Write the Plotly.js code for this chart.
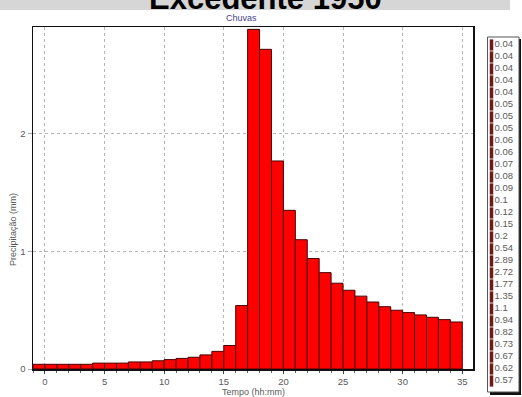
<!DOCTYPE html>
<html>
<head>
<meta charset="utf-8">
<script src="https://cdn.plot.ly/plotly-3.0.1.min.js"></script>
<style>html,body{margin:0;padding:0;background:#fff;}#chart{width:522px;height:397px;}</style>
</head>
<body>
<div id="chart"></div>
<script>
// ---- data ----
const chartTitle = 'Excedente 1950';
const subTitle = 'Chuvas';
const xTitle = 'Tempo (hh:mm)';
const yTitle = 'Precipitação (mm)';
const times = [-1,0,1,2,3,4,5,6,7,8,9,10,11,12,13,14,15,16,17,18,19,20,21,22,23,24,25,26,27,28,29,30,31,32,33,34];
const rain = [0.04,0.04,0.04,0.04,0.04,0.05,0.05,0.05,0.06,0.06,0.07,0.08,0.09,0.1,0.12,0.15,0.2,0.54,2.89,2.72,1.77,1.35,1.1,0.94,0.82,0.73,0.67,0.62,0.57,0.53,0.5,0.48,0.46,0.44,0.42,0.4];
const xTicks = [0,5,10,15,20,25,30,35];
const yTicks = [0,1,2];
const legendShown = 29; // the legend box is cut off by the picture after this many entries

// ---- layout helpers (pixel -> paper) ----
const W = 522, H = 397;
const px = v => v / W;
const py = v => 1 - v / H;
const font = 'Liberation Sans, Arial, sans-serif';
const grey = '#5a5a5a';

const legVals = rain.slice(0, legendShown);
const legendIdx = legVals.map((v, i) => i);

const bars = {
  type: 'bar', x: times, y: rain, offset: 0, width: 1,
  marker: {color: '#ff0000', line: {color: '#4a0000', width: 1}},
  xaxis: 'x', yaxis: 'y', hoverinfo: 'skip', showlegend: false
};
const legMarks = {
  type: 'scatter', mode: 'markers', x: legVals.map(() => 5.5), y: legendIdx,
  marker: {symbol: 'line-ns', size: 8, line: {width: 3.5, color: '#6e1a1a'}},
  xaxis: 'x2', yaxis: 'y2', hoverinfo: 'skip', showlegend: false
};
const legText = {
  type: 'scatter', mode: 'text', x: legVals.map(() => 8.5), y: legendIdx,
  text: legVals.map(v => String(v)), textposition: 'middle right',
  textfont: {family: font, size: 9.5, color: grey},
  xaxis: 'x2', yaxis: 'y2', hoverinfo: 'skip', showlegend: false
};

const layout = {
  width: W, height: H,
  margin: {l: 0, r: 0, t: 0, b: 0},
  paper_bgcolor: '#ffffff', plot_bgcolor: '#ffffff',
  showlegend: false, hovermode: false, bargap: 0,
  font: {family: font, size: 9, color: grey},
  xaxis: {
    domain: [px(33), px(473)], range: [-1, 35.9], anchor: 'y',
    tickvals: xTicks, ticks: 'outside', ticklen: 3, tickcolor: '#444',
    tickfont: {family: font, size: 9.5, color: grey},
    showgrid: true, gridcolor: '#b4b4b4', griddash: '3px,3px', gridwidth: 1,
    minor: {dtick: 1, tick0: 0, ticks: 'outside', ticklen: 2, tickcolor: '#666', showgrid: false},
    showline: true, mirror: true, linecolor: '#111', linewidth: 1.5,
    zeroline: false, fixedrange: true
  },
  yaxis: {
    domain: [py(369), py(27)], range: [0, 2.91], anchor: 'x',
    tickvals: yTicks, ticks: 'outside', ticklen: 4, tickcolor: '#aaa',
    tickfont: {family: font, size: 9.5, color: grey},
    showgrid: true, gridcolor: '#b4b4b4', griddash: '3px,3px', gridwidth: 1,
    showline: true, mirror: true, linecolor: '#111', linewidth: 1.5,
    zeroline: false, fixedrange: true
  },
  xaxis2: {
    domain: [px(486), px(520)], range: [0, 34], anchor: 'y2',
    visible: false, fixedrange: true
  },
  yaxis2: {
    domain: [py(390), py(37)], range: [(390 - 45) / 12, (37 - 45) / 12], anchor: 'x2',
    visible: false, fixedrange: true
  },
  shapes: [
    {type: 'rect', xref: 'paper', yref: 'paper', x0: 0, x1: px(510), y0: py(10), y1: 1,
     fillcolor: '#d6d6d6', line: {width: 0}, layer: 'below'},
    {type: 'rect', xref: 'paper', yref: 'paper', x0: px(490), x1: px(521), y0: py(395), y1: py(39),
     fillcolor: '#111', line: {width: 0}, layer: 'below'},
    {type: 'rect', xref: 'paper', yref: 'paper', x0: px(487.5), x1: px(519), y0: py(392), y1: py(37),
     fillcolor: '#ffffff', line: {width: 1, color: '#555'}, layer: 'below'}
  ],
  annotations: [
    {text: '<b>' + chartTitle + '</b>', xref: 'paper', yref: 'paper', x: px(265), y: py(-1.5),
     xanchor: 'center', yanchor: 'middle', showarrow: false,
     font: {family: font, size: 31, color: '#000'}},
    {text: subTitle, xref: 'paper', yref: 'paper', x: px(241), y: py(17.5),
     xanchor: 'center', yanchor: 'middle', showarrow: false,
     font: {family: font, size: 9, color: '#45458a'}},
    {text: xTitle, xref: 'paper', yref: 'paper', x: px(253), y: py(392),
     xanchor: 'center', yanchor: 'middle', showarrow: false,
     font: {family: font, size: 9, color: grey}},
    {text: yTitle, xref: 'paper', yref: 'paper', x: px(13), y: py(230), textangle: -90,
     xanchor: 'center', yanchor: 'middle', showarrow: false,
     font: {family: font, size: 9, color: grey}}
  ]
};

Plotly.newPlot('chart', [bars, legMarks, legText], layout, {displayModeBar: false, staticPlot: true});
</script>
</body>
</html>
